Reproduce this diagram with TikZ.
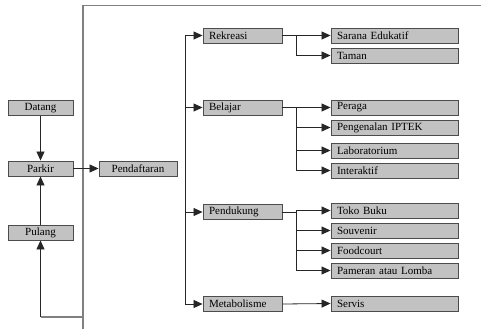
\documentclass[tikz,border=0pt]{standalone}
\usepackage{fontspec}
\setmainfont{Liberation Serif}
\usetikzlibrary{arrows.meta}
\tikzset{
  box/.style={draw=black!70, fill=black!24, line width=0.9pt, minimum height=15pt, inner ysep=0pt, font=\fontsize{11}{12}\selectfont},
  cbox/.style={box, inner xsep=0pt},
  lbox/.style={box, inner xsep=6pt, align=left},
  grp/.style={lbox, text width=67pt},
  leaf/.style={lbox, text width=115pt},
  conn/.style={draw=black!85, line width=0.8pt, -{Triangle[length=9pt,width=8pt]}},
  line/.style={draw=black!85, line width=0.8pt},
  frame/.style={draw=black!50, line width=1.4pt}
}
\begin{document}
\begin{tikzpicture}[x=1pt,y=-1pt]
\useasboundingbox (0,0) rectangle (481,329);
% left column
\node[cbox, minimum width=65pt] (dat) at (40.5,108) {Datang};
\node[cbox, minimum width=65pt] (par) at (40.5,168.5) {Parkir};
\node[cbox, minimum width=65pt] (pul) at (40.5,232.5) {Pulang};
\node[cbox, minimum width=78pt] (pen) at (138,168.5) {Pendaftaran};
% groups
\node[grp] (rek) at (242.5,35.5) {Rekreasi};
\node[grp] (bel) at (242.5,107.5) {Belajar};
\node[grp] (pdk) at (242.5,212) {Pendukung};
\node[grp] (met) at (242.5,304) {Metabolisme};
% leaves
\node[leaf] (sar) at (394.5,35.5) {Sarana Edukatif};
\node[leaf] (tam) at (394.5,55.5) {Taman};
\node[leaf] (per) at (394.5,107.5) {Peraga};
\node[leaf] (ipt) at (394.5,127.5) {Pengenalan IPTEK};
\node[leaf] (lab) at (394.5,150.5) {Laboratorium};
\node[leaf] (int) at (394.5,170.5) {Interaktif};
\node[leaf] (tok) at (394.5,210.5) {Toko Buku};
\node[leaf] (sou) at (394.5,230.5) {Souvenir};
\node[leaf] (foo) at (394.5,250.5) {Foodcourt};
\node[leaf] (pam) at (394.5,270.5) {Pameran atau Lomba};
\node[leaf] (ser) at (394.5,303.5) {Servis};
% coordinates
\coordinate (fx) at (83,0);
\coordinate (ftop) at (481,5.5);
\coordinate (fbot) at (83,329);
\coordinate (floop) at (83,317);
\coordinate (tx) at (185,0);
\coordinate (bx) at (296,0);
% frame
\draw[frame] (ftop) -| (fbot);
\draw[frame] (floop) -- (floop -| pul.south);
\draw[conn] (floop -| pul.south) -- (pul.south);
% left flow
\draw[conn] (dat.south) -- (par.north);
\draw[conn] (pul.north) -- (par.south);
\draw[conn] (par.east) -- (pen.west);
% trunk
\draw[line] (rek.west -| tx) -- (met.west -| tx);
\foreach \g in {rek,bel,pdk,met}{\draw[conn] (\g.west -| tx) -- (\g.west);}
% branches
\draw[conn] (rek.east) -- (sar.west);
\draw[line] (rek.east -| bx) -- (tam.west -| bx);
\draw[conn] (tam.west -| bx) -- (tam.west);
\draw[conn] (bel.east) -- (per.west);
\draw[line] (bel.east -| bx) -- (int.west -| bx);
\foreach \l in {ipt,lab,int}{\draw[conn] (\l.west -| bx) -- (\l.west);}
\draw[line] (pdk.east) -- (pdk.east -| bx);
\draw[line] (tok.west -| bx) -- (pam.west -| bx);
\foreach \l in {tok,sou,foo,pam}{\draw[conn] (\l.west -| bx) -- (\l.west);}
\draw[conn] (met.east) -- (ser.west);
\end{tikzpicture}
\end{document}
